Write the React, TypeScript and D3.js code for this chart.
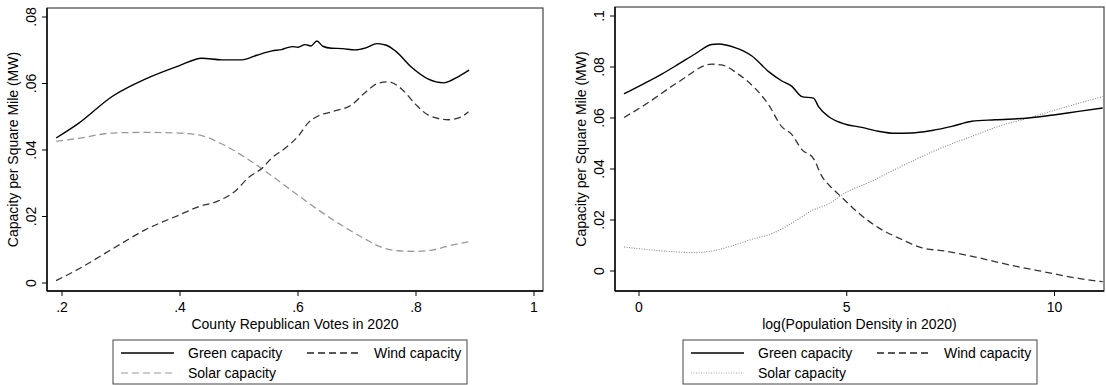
import { useEffect, useRef } from "react";
import * as d3 from "d3";

// Left panel: county Republican vote share
const voteX = [0.19, 0.228, 0.285, 0.341, 0.398, 0.437, 0.471, 0.505, 0.53, 0.556, 0.572, 0.59, 0.6, 0.612, 0.622, 0.632, 0.642, 0.657, 0.675, 0.697, 0.715, 0.734, 0.75, 0.765, 0.793, 0.821, 0.847, 0.872, 0.89];
const voteGreen = [0.0436, 0.048, 0.0561, 0.0613, 0.0653, 0.0676, 0.0671, 0.0671, 0.0685, 0.0698, 0.0702, 0.0711, 0.0709, 0.0717, 0.0713, 0.0728, 0.0712, 0.0706, 0.0705, 0.0701, 0.0707, 0.072, 0.0715, 0.0698, 0.0648, 0.0613, 0.0602, 0.0621, 0.064];

const windVoteX = [0.19, 0.228, 0.285, 0.341, 0.398, 0.431, 0.465, 0.494, 0.516, 0.539, 0.556, 0.578, 0.601, 0.618, 0.635, 0.657, 0.691, 0.714, 0.736, 0.753, 0.776, 0.799, 0.821, 0.855, 0.875, 0.889];
const voteWind = [0.0007, 0.0042, 0.0102, 0.016, 0.0204, 0.0229, 0.0247, 0.0277, 0.0317, 0.0345, 0.0377, 0.0405, 0.0443, 0.0483, 0.0503, 0.0515, 0.0536, 0.0573, 0.0601, 0.0605, 0.0583, 0.0538, 0.0505, 0.0491, 0.0498, 0.0515];

const solarVoteX = [0.19, 0.228, 0.285, 0.341, 0.398, 0.437, 0.471, 0.511, 0.544, 0.59, 0.635, 0.68, 0.714, 0.742, 0.77, 0.799, 0.827, 0.861, 0.889];
const voteSolar = [0.0426, 0.0435, 0.0451, 0.0453, 0.0451, 0.0443, 0.0418, 0.0377, 0.0337, 0.0277, 0.0219, 0.0167, 0.0132, 0.0107, 0.0097, 0.0095, 0.0099, 0.0114, 0.0124];

// Right panel: log population density
const densX = [-0.36, 0.144, 0.546, 0.947, 1.348, 1.75, 1.91, 2.31, 2.71, 3.12, 3.43, 3.68, 3.92, 4.2, 4.32, 4.56, 4.88, 5.36, 5.76, 6.16, 6.56, 7.05, 7.53, 8.01, 8.57, 9.37, 10.02, 10.58, 11.16];
const densGreen = [0.0695, 0.0737, 0.0772, 0.0811, 0.0851, 0.0888, 0.089, 0.0876, 0.0844, 0.0782, 0.0746, 0.0724, 0.0684, 0.0678, 0.0645, 0.0606, 0.058, 0.0563, 0.0548, 0.054, 0.0541, 0.0551, 0.0567, 0.0587, 0.0593, 0.06, 0.0613, 0.0626, 0.0639];

const windDensX = [-0.36, 0.144, 0.947, 1.75, 1.99, 2.39, 2.79, 3.12, 3.43, 3.68, 3.92, 4.2, 4.4, 4.64, 4.88, 5.28, 5.76, 6.24, 6.81, 7.37, 8.17, 8.97, 9.78, 10.58, 11.16];
const densWind = [0.0602, 0.0652, 0.0741, 0.0811, 0.0808, 0.0772, 0.0717, 0.0652, 0.0567, 0.0535, 0.0476, 0.0441, 0.0372, 0.0326, 0.0289, 0.0228, 0.017, 0.013, 0.0091, 0.0078, 0.0052, 0.0022, -0.0004, -0.0029, -0.0042];

const solarDensX = [-0.36, 0.144, 0.787, 1.348, 1.75, 2.23, 2.71, 3.19, 3.76, 4.16, 4.56, 4.96, 5.6, 6.16, 6.73, 7.37, 8.01, 8.65, 9.37, 10.18, 11.16];
const densSolar = [0.0094, 0.0085, 0.0076, 0.0072, 0.0078, 0.0098, 0.0124, 0.0146, 0.0196, 0.0237, 0.0263, 0.0306, 0.0352, 0.0398, 0.0443, 0.0489, 0.0528, 0.0567, 0.06, 0.0639, 0.0684];

const voteTicks = [0.2, 0.4, 0.6, 0.8, 1];
const voteTickLabels = [".2", ".4", ".6", ".8", "1"];
const leftYTicks = [0, 0.02, 0.04, 0.06, 0.08];
const leftYTickLabels = ["0", ".02", ".04", ".06", ".08"];
const densTicks = [0, 5, 10];
const densTickLabels = ["0", "5", "10"];
const rightYTicks = [0, 0.02, 0.04, 0.06, 0.08, 0.1];
const rightYTickLabels = ["0", ".02", ".04", ".06", ".08", ".1"];

const FONT = "Liberation Sans, Arial, sans-serif";

type Series = { xs: number[]; ys: number[]; stroke: string; width: number; dash: string };

interface PanelSpec {
  box: [number, number, number, number]; // left, top, right, bottom
  xDomain: [number, number];
  xRange: [number, number];
  yDomain: [number, number];
  yRange: [number, number];
  xTicks: number[];
  xTickLabels: string[];
  yTicks: number[];
  yTickLabels: string[];
  xTitle: string;
  series: Series[];
  legendLeft: number;
  solarDash: string;
  solarStroke: string;
}

function drawPanel(svg: d3.Selection<SVGSVGElement, unknown, null, undefined>, p: PanelSpec) {
  const [l, t, r, b] = p.box;
  const x = d3.scaleLinear().domain(p.xDomain).range(p.xRange);
  const y = d3.scaleLinear().domain(p.yDomain).range(p.yRange);
  const g = svg.append("g");

  // plot region outline
  g.append("rect")
    .attr("x", l).attr("y", t).attr("width", r - l).attr("height", b - t)
    .attr("fill", "none").attr("stroke", "#444").attr("stroke-width", 1.2);

  // series
  p.series.forEach((s) => {
    const pts = s.xs.map((v, i) => [v, s.ys[i]] as [number, number]);
    const line = d3.line<[number, number]>()
      .x((d) => x(d[0]))
      .y((d) => y(d[1]))
      .curve(d3.curveMonotoneX);
    g.append("path")
      .attr("d", line(pts))
      .attr("fill", "none")
      .attr("stroke", s.stroke)
      .attr("stroke-width", s.width)
      .attr("stroke-dasharray", s.dash);
  });

  // axes lines
  g.append("line").attr("x1", l).attr("x2", l).attr("y1", t).attr("y2", b).attr("stroke", "#000").attr("stroke-width", 1.4);
  g.append("line").attr("x1", l).attr("x2", r).attr("y1", b).attr("y2", b).attr("stroke", "#000").attr("stroke-width", 1.4);

  // y ticks
  p.yTicks.forEach((v, i) => {
    g.append("line").attr("x1", l - 5).attr("x2", l).attr("y1", y(v)).attr("y2", y(v)).attr("stroke", "#000");
    g.append("text")
      .attr("transform", `translate(${l - 11},${y(v)}) rotate(-90)`)
      .attr("text-anchor", "middle")
      .attr("font-family", FONT).attr("font-size", 14)
      .text(p.yTickLabels[i]);
  });

  // x ticks
  p.xTicks.forEach((v, i) => {
    g.append("line").attr("x1", x(v)).attr("x2", x(v)).attr("y1", b).attr("y2", b + 5).attr("stroke", "#000");
    g.append("text")
      .attr("x", x(v)).attr("y", b + 21)
      .attr("text-anchor", "middle")
      .attr("font-family", FONT).attr("font-size", 14)
      .text(p.xTickLabels[i]);
  });

  g.append("text")
    .attr("x", (l + r) / 2).attr("y", b + 38)
    .attr("text-anchor", "middle")
    .attr("font-family", FONT).attr("font-size", 14)
    .text(p.xTitle);

  g.append("text")
    .attr("transform", `translate(${l - 29},${(t + b) / 2}) rotate(-90)`)
    .attr("text-anchor", "middle")
    .attr("font-family", FONT).attr("font-size", 14)
    .text("Capacity per Square Mile (MW)");

  // legend
  const lx = p.legendLeft;
  const ly = 340;
  g.append("rect").attr("x", lx).attr("y", ly).attr("width", 354).attr("height", 44)
    .attr("fill", "#fff").attr("stroke", "#444").attr("stroke-width", 1);
  const items = [
    { label: "Green capacity", dx: 8, row: 0, stroke: "#000", dash: "", w: 1.3 },
    { label: "Wind capacity", dx: 194, row: 0, stroke: "#222", dash: "7 4", w: 1.3 },
    { label: "Solar capacity", dx: 8, row: 1, stroke: p.solarStroke, dash: p.solarDash, w: 1.2 },
  ];
  items.forEach((it) => {
    const yy = ly + 13 + it.row * 20;
    g.append("line").attr("x1", lx + it.dx).attr("x2", lx + it.dx + 53).attr("y1", yy).attr("y2", yy)
      .attr("stroke", it.stroke).attr("stroke-width", it.w).attr("stroke-dasharray", it.dash);
    g.append("text").attr("x", lx + it.dx + 67).attr("y", yy + 5)
      .attr("font-family", FONT).attr("font-size", 14)
      .text(it.label);
  });
}

const App = () => {
  const ref = useRef<SVGSVGElement>(null);

  useEffect(() => {
    const svg = d3.select(ref.current!);
    svg.selectAll("*").remove();
    svg.append("rect").attr("width", 1106).attr("height", 385).attr("fill", "#fff");

    drawPanel(svg, {
      box: [47, 8, 543, 291],
      xDomain: [0.2, 1], xRange: [62, 534],
      yDomain: [0, 0.08], yRange: [283, 17],
      xTicks: voteTicks, xTickLabels: voteTickLabels,
      yTicks: leftYTicks, yTickLabels: leftYTickLabels,
      xTitle: "County Republican Votes in 2020",
      series: [
        { xs: solarVoteX, ys: voteSolar, stroke: "#999", width: 1.3, dash: "7 4" },
        { xs: windVoteX, ys: voteWind, stroke: "#333", width: 1.3, dash: "7 4" },
        { xs: voteX, ys: voteGreen, stroke: "#000", width: 1.4, dash: "" },
      ],
      legendLeft: 113,
      solarDash: "7 4",
      solarStroke: "#999",
    });

    drawPanel(svg, {
      box: [615, 7, 1104, 291],
      xDomain: [0, 10], xRange: [639, 1054.5],
      yDomain: [0, 0.1], yRange: [271, 16],
      xTicks: densTicks, xTickLabels: densTickLabels,
      yTicks: rightYTicks, yTickLabels: rightYTickLabels,
      xTitle: "log(Population Density in 2020)",
      series: [
        { xs: solarDensX, ys: densSolar, stroke: "#888", width: 1.1, dash: "1 1.5" },
        { xs: windDensX, ys: densWind, stroke: "#333", width: 1.3, dash: "7 4" },
        { xs: densX, ys: densGreen, stroke: "#000", width: 1.4, dash: "" },
      ],
      legendLeft: 683,
      solarDash: "1 1.5",
      solarStroke: "#aaa",
    });
  }, []);

  return (
    <svg
      ref={ref}
      width={1106}
      height={385}
      style={{ position: "absolute", left: 0, top: 0 }}
    />
  );
};

export default App;
